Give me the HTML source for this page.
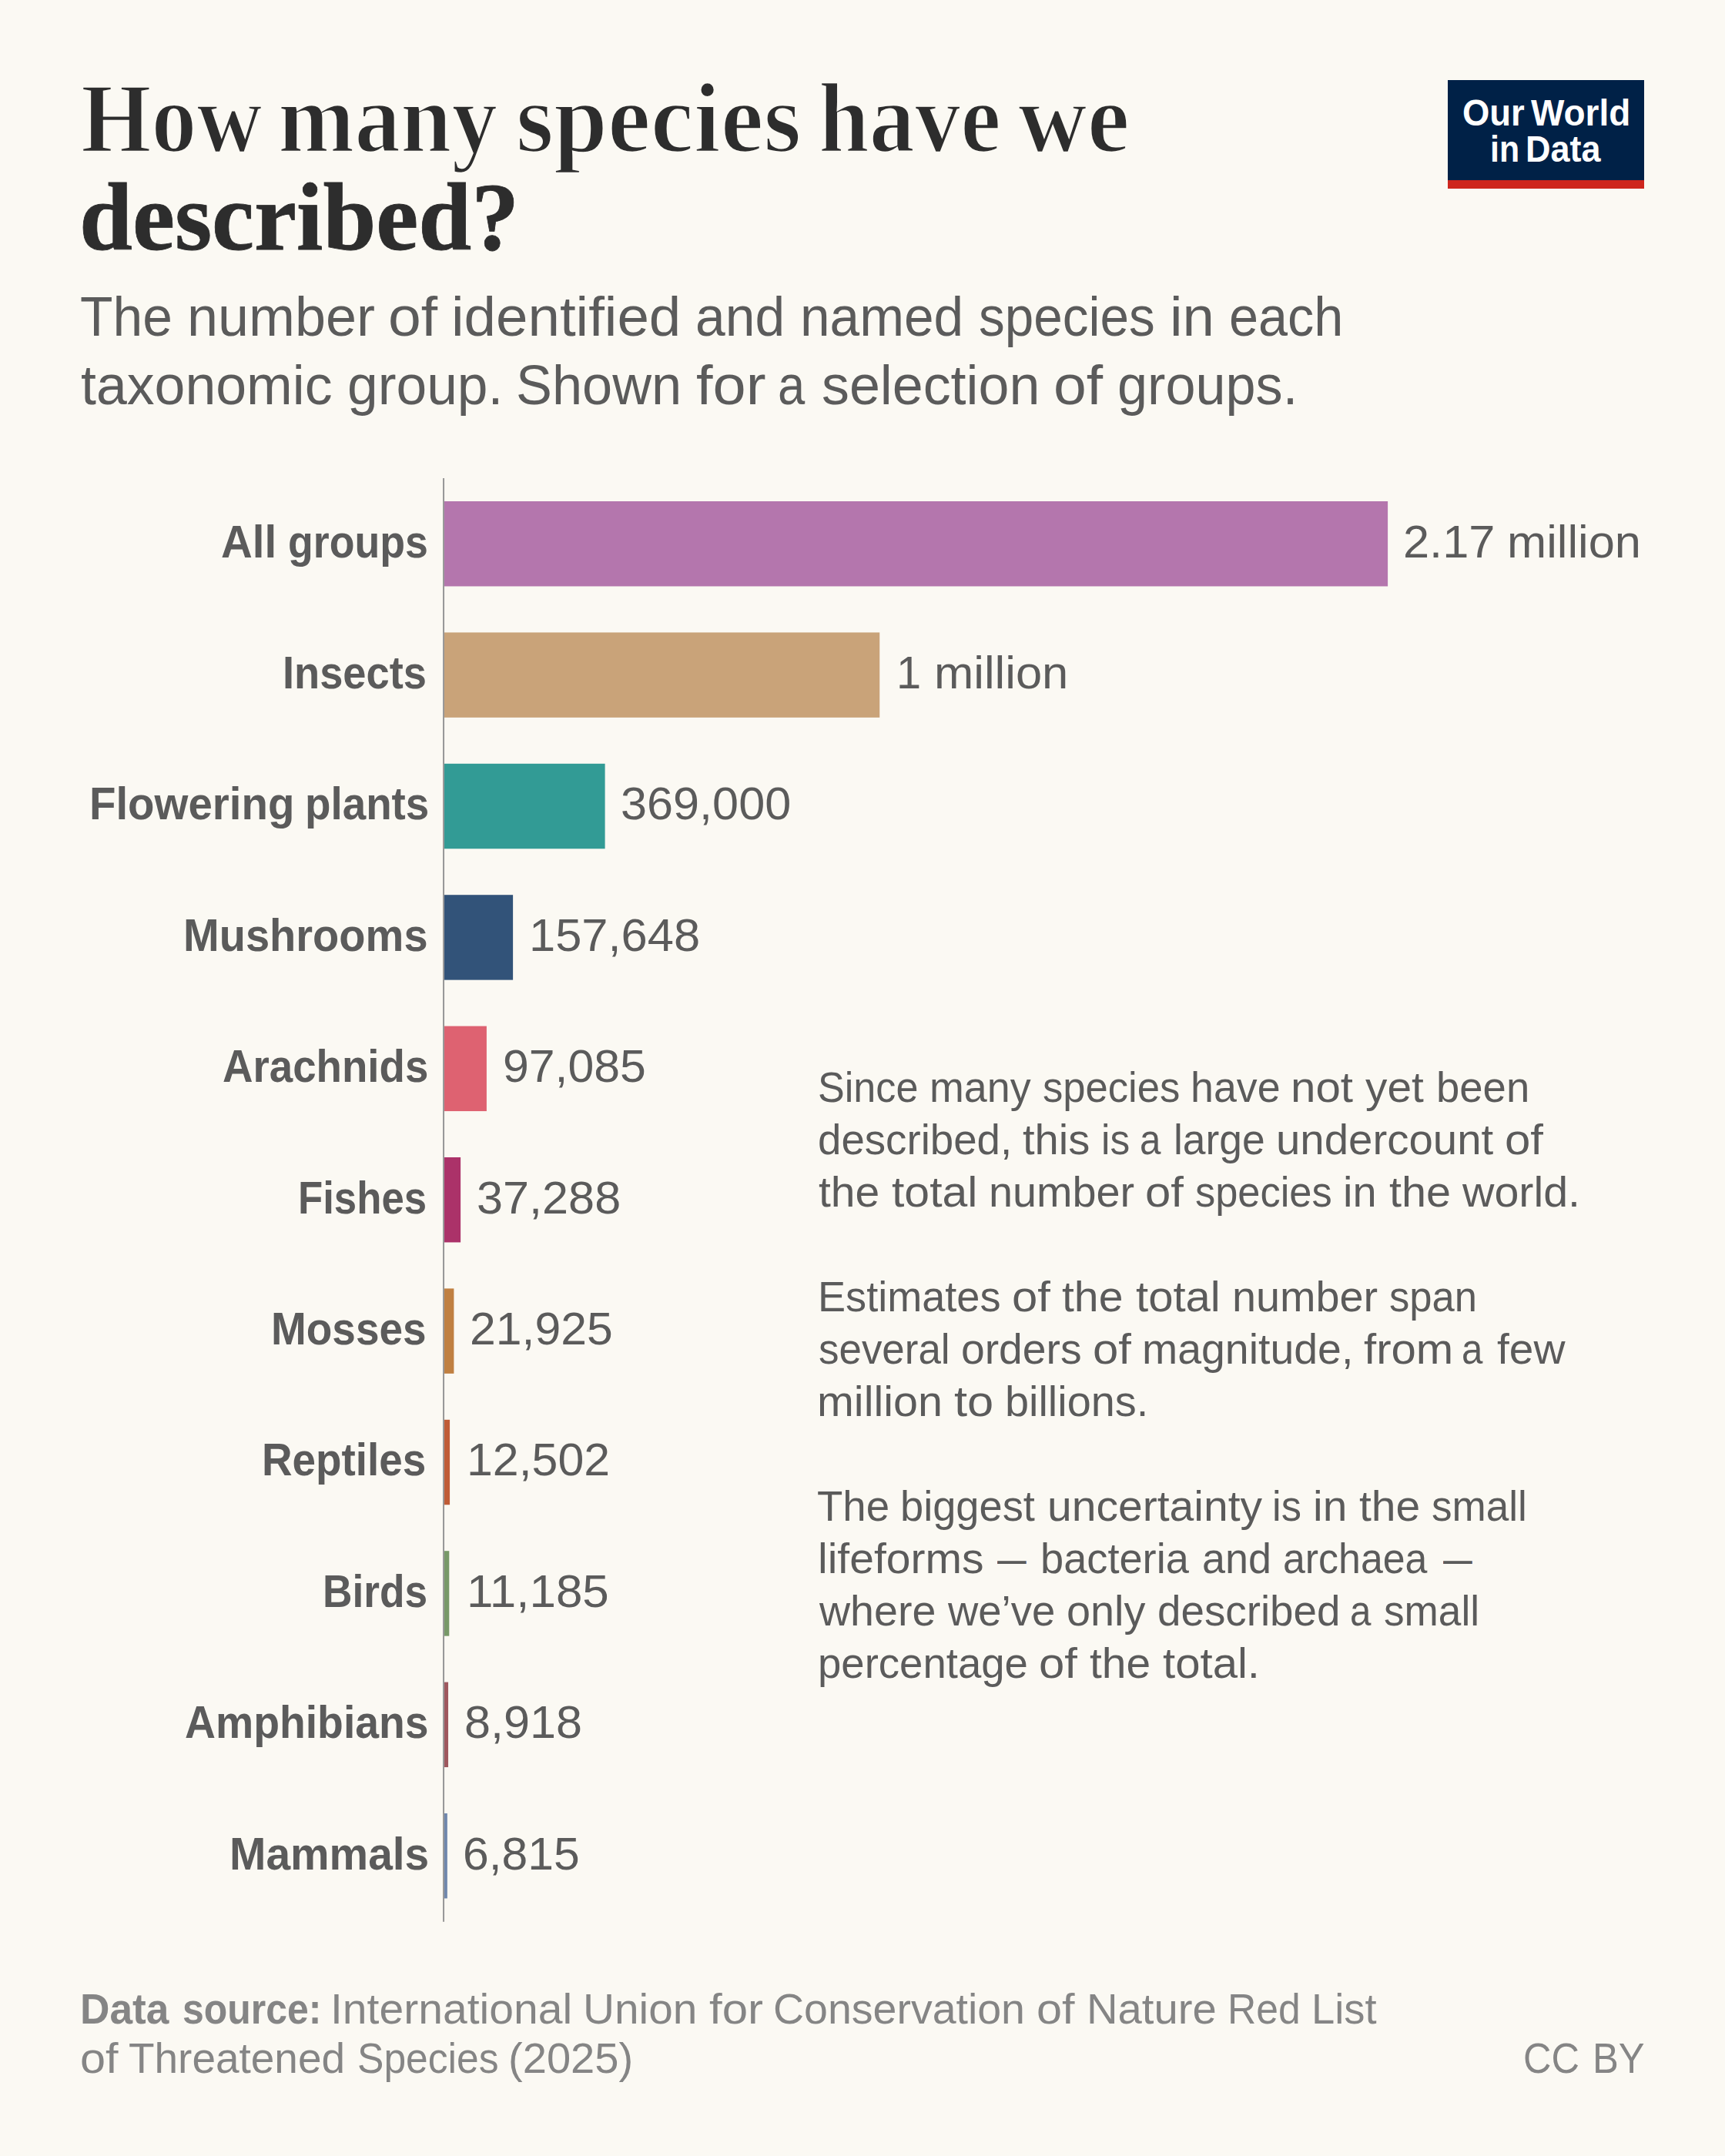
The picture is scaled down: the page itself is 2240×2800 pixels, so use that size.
<!DOCTYPE html>
<html lang="en">
<head>
<meta charset="utf-8">
<title>How many species have we described?</title>
<style>
html,body{margin:0;padding:0}
body{width:2240px;height:2800px;background:#fbf9f3;position:relative;overflow:hidden;font-family:"Liberation Sans", sans-serif;color:#5b5b5b}
h1,p,ul,li,figure,footer,header,aside{margin:0;padding:0;font:inherit;list-style:none}
span span,strong span{position:absolute;display:block;white-space:nowrap;line-height:1;transform-origin:0 0}
.title,.title2{font-family:"Liberation Serif", serif;font-weight:700;font-size:130px;color:#2d2d2d;-webkit-text-stroke:2.7px #fbf9f3}
.title2{font-size:125px;-webkit-text-stroke:0.8px #2d2d2d}
.sub{font-size:72px}
.lab{font-weight:700;font-size:60px}
.val{font-size:60px}
.ann{font-size:56px}
.src,.srcb,.cc{font-size:56px;color:#858585}
.srcb{font-weight:700}
.logo{font-weight:700;font-size:48px;color:#fff}
#logo{position:absolute;left:1880px;top:104px;width:255px;height:130px;background:#002147;border-bottom:11px solid #ce261e}
#bars{position:absolute;left:0;top:0}
</style>
</head>
<body>
<header>
<h1><span class="title"><span style="left:104.8px;top:88.1px;transform:scaleX(0.906)">How</span> <span style="left:361.2px;top:88.1px;transform:scaleX(0.918)">many</span> <span style="left:669.6px;top:88.1px;transform:scaleX(0.968)">species</span> <span style="left:1063.2px;top:88.1px;transform:scaleX(0.911)">have</span> <span style="left:1321.6px;top:88.1px;transform:scaleX(0.955)">we</span></span>
<span class="title2"><span style="left:103.2px;top:219.7px;transform:scaleX(0.991)">described?</span></span></h1>
<p><span class="sub"><span style="left:104.2px;top:375.4px;transform:scaleX(0.966)">The</span> <span style="left:243.2px;top:375.4px;transform:scaleX(0.999)">number</span> <span style="left:503.5px;top:375.4px;transform:scaleX(1.068)">of</span> <span style="left:586.3px;top:375.4px;transform:scaleX(1.035)">identified</span> <span style="left:902.9px;top:375.4px;transform:scaleX(0.967)">and</span> <span style="left:1038.7px;top:375.4px;transform:scaleX(0.964)">named</span> <span style="left:1270.9px;top:375.4px;transform:scaleX(0.937)">species</span> <span style="left:1519.3px;top:375.4px;transform:scaleX(1.033)">in</span> <span style="left:1595.6px;top:375.4px;transform:scaleX(0.95)">each</span></span>
<span class="sub"><span style="left:104.8px;top:463.9px;transform:scaleX(0.995)">taxonomic</span> <span style="left:450.6px;top:463.9px;transform:scaleX(0.991)">group.</span> <span style="left:670.1px;top:463.9px;transform:scaleX(0.977)">Shown</span> <span style="left:904.4px;top:463.9px;transform:scaleX(1.077)">for</span> <span style="left:1009.5px;top:463.9px;transform:scaleX(0.88)">a</span> <span style="left:1067.3px;top:463.9px;transform:scaleX(0.997)">selection</span> <span style="left:1368.4px;top:463.9px;transform:scaleX(1.068)">of</span> <span style="left:1451.1px;top:463.9px;transform:scaleX(0.975)">groups.</span></span></p>
<div id="logo"><span class="logo"><span style="left:18.8px;top:18.6px;transform:scaleX(0.946)">Our</span> <span style="left:108.3px;top:18.6px;transform:scaleX(0.957)">World</span></span>
<span class="logo"><span style="left:55px;top:65.6px;transform:scaleX(0.892)">in</span> <span style="left:101px;top:65.6px;transform:scaleX(0.937)">Data</span></span></div>
</header>
<figure>
<svg id="bars" width="2240" height="2800" viewBox="0 0 2240 2800" aria-hidden="true">
<rect x="577" y="651" width="1225.1" height="110.45" fill="#b476ad"/>
<rect x="577" y="821.4" width="565.25" height="110.45" fill="#c9a379"/>
<rect x="577" y="991.8" width="208.6" height="110.45" fill="#329b95"/>
<rect x="577" y="1162.2" width="89.1" height="110.45" fill="#325379"/>
<rect x="577" y="1332.6" width="54.9" height="110.45" fill="#de6271"/>
<rect x="577" y="1503" width="21.1" height="110.45" fill="#ab3269"/>
<rect x="577" y="1673.4" width="12.4" height="110.45" fill="#c08041"/>
<rect x="577" y="1843.8" width="7.07" height="110.45" fill="#c05c36"/>
<rect x="577" y="2014.2" width="6.3" height="110.45" fill="#789968"/>
<rect x="577" y="2184.6" width="5.04" height="110.45" fill="#9f585e"/>
<rect x="577" y="2355" width="3.85" height="110.45" fill="#6f87ad"/>
<rect x="575" y="621" width="2.05" height="1874.8" fill="#999"/>
</svg>
<ul>
<li><span class="lab"><span style="left:287.1px;top:673.6px;transform:scaleX(0.94)">All</span> <span style="left:374.3px;top:673.6px;transform:scaleX(0.895)">groups</span></span> <span class="val"><span style="left:1822.1px;top:673.6px;transform:scaleX(1.022)">2.17</span> <span style="left:1956.9px;top:673.6px;transform:scaleX(1.023)">million</span></span></li>
<li><span class="lab"><span style="left:367.4px;top:844px;transform:scaleX(0.904)">Insects</span></span> <span class="val"><span style="left:1163.5px;top:844px;transform:scaleX(0.963)">1</span> <span style="left:1213.3px;top:844px;transform:scaleX(1.025)">million</span></span></li>
<li><span class="lab"><span style="left:115.9px;top:1014.4px;transform:scaleX(0.94)">Flowering</span> <span style="left:395.9px;top:1014.4px;transform:scaleX(0.913)">plants</span></span> <span class="val"><span style="left:806.2px;top:1014.4px;transform:scaleX(1.02)">369,000</span></span></li>
<li><span class="lab"><span style="left:238.3px;top:1184.8px;transform:scaleX(0.934)">Mushrooms</span></span> <span class="val"><span style="left:687px;top:1184.8px;transform:scaleX(1.024)">157,648</span></span></li>
<li><span class="lab"><span style="left:289px;top:1355.2px;transform:scaleX(0.911)">Arachnids</span></span> <span class="val"><span style="left:653px;top:1355.2px;transform:scaleX(1.013)">97,085</span></span></li>
<li><span class="lab"><span style="left:387.2px;top:1525.6px;transform:scaleX(0.879)">Fishes</span></span> <span class="val"><span style="left:618.9px;top:1525.6px;transform:scaleX(1.02)">37,288</span></span></li>
<li><span class="lab"><span style="left:352.2px;top:1696px;transform:scaleX(0.916)">Mosses</span></span> <span class="val"><span style="left:609.5px;top:1696px;transform:scaleX(1.012)">21,925</span></span></li>
<li><span class="lab"><span style="left:339.8px;top:1866.4px;transform:scaleX(0.914)">Reptiles</span></span> <span class="val"><span style="left:605.5px;top:1866.4px;transform:scaleX(1.014)">12,502</span></span></li>
<li><span class="lab"><span style="left:418.7px;top:2036.8px;transform:scaleX(0.888)">Birds</span></span> <span class="val"><span style="left:605.5px;top:2036.8px;transform:scaleX(1.032)">11,185</span></span></li>
<li><span class="lab"><span style="left:239.8px;top:2207.2px;transform:scaleX(0.922)">Amphibians</span></span> <span class="val"><span style="left:602.5px;top:2207.2px;transform:scaleX(1.019)">8,918</span></span></li>
<li><span class="lab"><span style="left:297.8px;top:2377.6px;transform:scaleX(0.948)">Mammals</span></span> <span class="val"><span style="left:601.2px;top:2377.6px;transform:scaleX(1.011)">6,815</span></span></li>
</ul>
</figure>
<aside>
<p><span class="ann"><span style="left:1061.7px;top:1384.4px;transform:scaleX(0.931)">Since</span> <span style="left:1206.9px;top:1384.4px;transform:scaleX(0.961)">many</span> <span style="left:1353.6px;top:1384.4px;transform:scaleX(0.939)">species</span> <span style="left:1546.1px;top:1384.4px;transform:scaleX(0.96)">have</span> <span style="left:1676.2px;top:1384.4px;transform:scaleX(1.041)">not</span> <span style="left:1772.7px;top:1384.4px;transform:scaleX(1.015)">yet</span> <span style="left:1865.1px;top:1384.4px;transform:scaleX(0.973)">been</span></span>
<span class="ann"><span style="left:1061.6px;top:1452.4px;transform:scaleX(0.976)">described,</span> <span style="left:1328px;top:1452.4px;transform:scaleX(1.002)">this</span> <span style="left:1430.1px;top:1452.4px;transform:scaleX(0.917)">is</span> <span style="left:1479.8px;top:1452.4px;transform:scaleX(0.88)">a</span> <span style="left:1524.3px;top:1452.4px;transform:scaleX(0.953)">large</span> <span style="left:1657px;top:1452.4px;transform:scaleX(1.007)">undercount</span> <span style="left:1953.9px;top:1452.4px;transform:scaleX(1.07)">of</span></span>
<span class="ann"><span style="left:1062.7px;top:1520.3px;transform:scaleX(1.018)">the</span> <span style="left:1157.9px;top:1520.3px;transform:scaleX(1.052)">total</span> <span style="left:1283.7px;top:1520.3px;transform:scaleX(0.996)">number</span> <span style="left:1486.6px;top:1520.3px;transform:scaleX(1.068)">of</span> <span style="left:1551.6px;top:1520.3px;transform:scaleX(0.936)">species</span> <span style="left:1744.4px;top:1520.3px;transform:scaleX(0.999)">in</span> <span style="left:1804.4px;top:1520.3px;transform:scaleX(1.028)">the</span> <span style="left:1899.2px;top:1520.3px;transform:scaleX(1.024)">world.</span></span></p>
<p><span class="ann"><span style="left:1061.7px;top:1656.3px;transform:scaleX(0.966)">Estimates</span> <span style="left:1313.8px;top:1656.3px;transform:scaleX(1.068)">of</span> <span style="left:1379.2px;top:1656.3px;transform:scaleX(1.02)">the</span> <span style="left:1475.1px;top:1656.3px;transform:scaleX(1.037)">total</span> <span style="left:1599.7px;top:1656.3px;transform:scaleX(0.996)">number</span> <span style="left:1803.5px;top:1656.3px;transform:scaleX(0.938)">span</span></span>
<span class="ann"><span style="left:1062.7px;top:1724.2px;transform:scaleX(0.945)">several</span> <span style="left:1247.6px;top:1724.2px;transform:scaleX(0.986)">orders</span> <span style="left:1418.7px;top:1724.2px;transform:scaleX(1.068)">of</span> <span style="left:1482.6px;top:1724.2px;transform:scaleX(0.99)">magnitude,</span> <span style="left:1770.6px;top:1724.2px;transform:scaleX(1.038)">from</span> <span style="left:1898.4px;top:1724.2px;transform:scaleX(0.88)">a</span> <span style="left:1944px;top:1724.2px;transform:scaleX(1.015)">few</span></span>
<span class="ann"><span style="left:1061.3px;top:1792.2px;transform:scaleX(1.026)">million</span> <span style="left:1239.3px;top:1792.2px;transform:scaleX(1.097)">to</span> <span style="left:1304.8px;top:1792.2px;transform:scaleX(0.997)">billions.</span></span></p>
<p><span class="ann"><span style="left:1061.4px;top:1928.1px;transform:scaleX(0.975)">The</span> <span style="left:1169.2px;top:1928.1px;transform:scaleX(0.968)">biggest</span> <span style="left:1359.5px;top:1928.1px;transform:scaleX(1.019)">uncertainty</span> <span style="left:1652.4px;top:1928.1px;transform:scaleX(0.937)">is</span> <span style="left:1704.7px;top:1928.1px;transform:scaleX(1.015)">in</span> <span style="left:1765px;top:1928.1px;transform:scaleX(1.018)">the</span> <span style="left:1859.3px;top:1928.1px;transform:scaleX(0.948)">small</span></span>
<span class="ann"><span style="left:1061.6px;top:1996.1px;transform:scaleX(1.019)">lifeforms</span> <span style="left:1294.8px;top:1996.1px;transform:scaleX(0.673)">—</span> <span style="left:1350.7px;top:1996.1px;transform:scaleX(0.968)">bacteria</span> <span style="left:1561.4px;top:1996.1px;transform:scaleX(0.963)">and</span> <span style="left:1666px;top:1996.1px;transform:scaleX(0.926)">archaea</span> <span style="left:1874.4px;top:1996.1px;transform:scaleX(0.675)">—</span></span>
<span class="ann"><span style="left:1063.7px;top:2064.1px;transform:scaleX(0.992)">where</span> <span style="left:1231px;top:2064.1px;transform:scaleX(0.972)">we’ve</span> <span style="left:1384.7px;top:2064.1px;transform:scaleX(0.997)">only</span> <span style="left:1502.8px;top:2064.1px;transform:scaleX(0.978)">described</span> <span style="left:1752.7px;top:2064.1px;transform:scaleX(0.88)">a</span> <span style="left:1797.2px;top:2064.1px;transform:scaleX(0.949)">small</span></span>
<span class="ann"><span style="left:1061.8px;top:2132.1px;transform:scaleX(0.974)">percentage</span> <span style="left:1348.8px;top:2132.1px;transform:scaleX(1.068)">of</span> <span style="left:1414.8px;top:2132.1px;transform:scaleX(1.016)">the</span> <span style="left:1509.6px;top:2132.1px;transform:scaleX(1.038)">total.</span></span></p>
</aside>
<footer>
<p><strong class="srcb"><span style="left:104.4px;top:2580.9px;transform:scaleX(0.95)">Data</span> <span style="left:237.2px;top:2580.9px;transform:scaleX(0.892)">source:</span></strong> <span class="src"><span style="left:429px;top:2580.9px;transform:scaleX(1.019)">International</span> <span style="left:757.2px;top:2580.9px;transform:scaleX(1.014)">Union</span> <span style="left:921.1px;top:2580.9px;transform:scaleX(1.071)">for</span> <span style="left:1004.2px;top:2580.9px;transform:scaleX(0.991)">Conservation</span> <span style="left:1345.5px;top:2580.9px;transform:scaleX(1.061)">of</span> <span style="left:1410.5px;top:2580.9px;transform:scaleX(1.004)">Nature</span> <span style="left:1593.7px;top:2580.9px;transform:scaleX(0.922)">Red</span> <span style="left:1703.1px;top:2580.9px;transform:scaleX(0.97)">List</span></span>
<span class="src"><span style="left:104.3px;top:2644.9px;transform:scaleX(1.061)">of</span> <span style="left:166.8px;top:2644.9px;transform:scaleX(0.981)">Threatened</span> <span style="left:463.6px;top:2644.9px;transform:scaleX(0.921)">Species</span> <span style="left:660.3px;top:2644.9px;transform:scaleX(1.002)">(2025)</span></span></p>
<p><span class="cc"><span style="left:1978.3px;top:2644.9px;transform:scaleX(0.901)">CC</span> <span style="left:2067.8px;top:2644.9px;transform:scaleX(0.905)">BY</span></span></p>
</footer>
</body>
</html>
